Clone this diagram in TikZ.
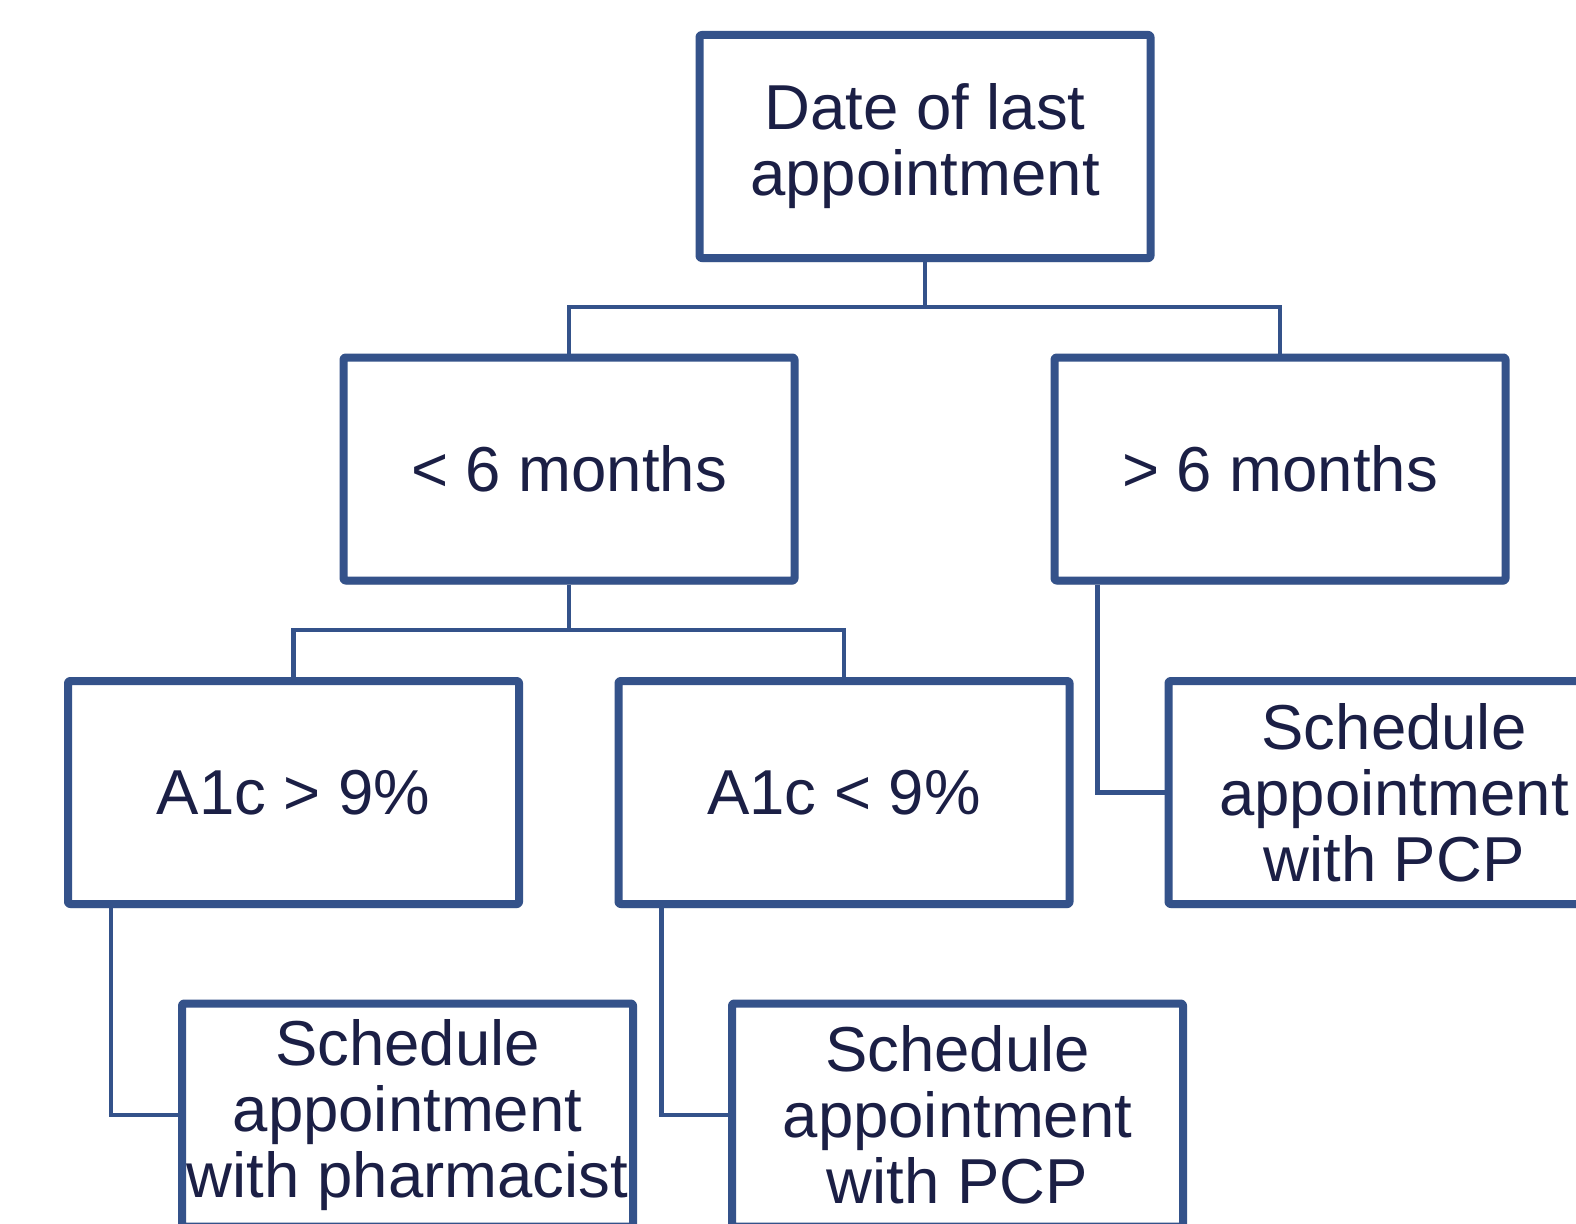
\documentclass[tikz,border=0pt]{standalone}
\usepackage{fontspec}
\setmainfont{Liberation Sans}
\usetikzlibrary{shadows,calc}
\definecolor{boxblue}{HTML}{34528A}
\definecolor{txtnavy}{HTML}{1B1F45}
\begin{document}
\begin{tikzpicture}[x=1pt,y=-1pt,
  box/.style={draw=boxblue, line width=8pt, fill=white, rounded corners=2pt, line join=round,
    minimum width=451pt, minimum height=223pt, inner sep=0pt, align=center,
    text=txtnavy, font=\fontsize{63.5}{66}\selectfont,
    drop shadow={shadow xshift=1pt, shadow yshift=-4pt, opacity=0.22, fill=black}},
  link/.style={draw=boxblue, line width=4.5pt}]
\clip (0,0) rectangle (1576,1223);
\useasboundingbox (0,0) rectangle (1576,1223);
\fill[white] (0,0) rectangle (1576,1223);

\node[box] (root) at (925,146.5) {Date of last\\appointment};
\node[box] (lt) at (569,469) {< 6 months};
\node[box] (gt) at (1280,469) {> 6 months};
\node[box] (a1) at (293.5,792.5) {A1c > 9\%};
\node[box] (a2) at (844,792.5) {A1c < 9\%};
\node[box] (s3) at (1394,792.5) {Schedule\\appointment\\with PCP};
\node[box] (s1) at (407.5,1115) {Schedule\\appointment\\with pharmacist};
\node[box] (s2) at (957.5,1115) {Schedule\\appointment\\with PCP};

\coordinate (j0) at (925,307);
\coordinate (j1) at (569,630);
\coordinate (b3) at ($(gt.south west)+(47,0)$);
\coordinate (b1) at ($(a1.south west)+(47,0)$);
\coordinate (b2) at ($(a2.south west)+(47,0)$);

\draw[link] (root.south) -- (j0);
\draw[link] (j0) -| (lt.north);
\draw[link] (j0) -| (gt.north);
\draw[link] (lt.south) -- (j1);
\draw[link] (j1) -| (a1.north);
\draw[link] (j1) -| (a2.north);
\draw[link] (b3) |- (s3.west);
\draw[link] (b1) |- (s1.west);
\draw[link] (b2) |- (s2.west);
\end{tikzpicture}
\end{document}
